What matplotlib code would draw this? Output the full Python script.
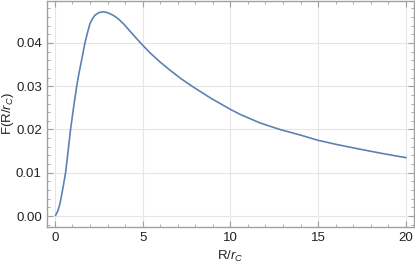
import numpy as np
import matplotlib
matplotlib.use("Agg")
import matplotlib.pyplot as plt
from matplotlib.ticker import MultipleLocator, FormatStrFormatter

# values
r_ratio = [0.04, 0.17, 0.29, 0.47, 0.61, 0.75, 0.89, 1.06, 1.24, 1.38, 1.52, 1.71,
           1.85, 2.0, 2.14, 2.28, 2.5, 2.75, 3.0, 3.32, 3.6, 3.89, 4.28, 4.88, 5.4,
           5.99, 6.56, 7.2, 7.89, 8.9, 9.98, 10.55, 11.7, 12.83, 14.0, 15.0, 16.1,
           17.2, 18.6, 20.0]
F_vals = [0.0002, 0.0012, 0.0029, 0.0068, 0.0101, 0.0150, 0.0200, 0.0250, 0.0300,
          0.0332, 0.0360, 0.0400, 0.0423, 0.0445, 0.0456, 0.0464, 0.0470, 0.0472,
          0.0470, 0.0464, 0.0456, 0.0445, 0.0427, 0.0400, 0.0378, 0.0356, 0.0337,
          0.0317, 0.0298, 0.0272, 0.0247, 0.0235, 0.0215, 0.0200, 0.0187, 0.0175,
          0.0165, 0.0156, 0.0145, 0.0135]

plt.rcParams['font.family'] = ['Liberation Sans', 'DejaVu Sans']
plt.rcParams['mathtext.fontset'] = 'custom'
plt.rcParams['mathtext.it'] = 'Liberation Sans:italic'
plt.rcParams['mathtext.rm'] = 'Liberation Sans'

fig = plt.figure(figsize=(4.15, 2.64), dpi=100)
ax = fig.add_axes([0.1125, 0.139, 0.884, 0.859])

ax.plot(r_ratio, F_vals, color='#5E81B5', lw=1.2)

ax.set_xlim(-0.47, 20.44)
ax.set_ylim(-0.0026, 0.0498)
ax.xaxis.set_major_locator(MultipleLocator(5))
ax.xaxis.set_minor_locator(MultipleLocator(1))
ax.yaxis.set_major_locator(MultipleLocator(0.01))
ax.yaxis.set_minor_locator(MultipleLocator(0.002))
ax.yaxis.set_major_formatter(FormatStrFormatter('%.2f'))

ax.grid(True, which='major', color='#e6e6e6', lw=0.8)
ax.set_axisbelow(True)

frame_col = '#a0a0a0'
for s in ax.spines.values():
    s.set_color(frame_col)
    s.set_linewidth(1.0)
ax.tick_params(which='both', direction='in', top=True, right=True, color=frame_col,
               labelsize=9.5, labelcolor='#222222')
ax.tick_params(which='major', length=4, width=0.8)
ax.tick_params(which='minor', length=2.3, width=0.6)

ax.set_xlabel(r'R/$r_C$', fontsize=9.5, color='#222222', labelpad=3.5)
ax.set_ylabel(r'F(R/$r_C$)', fontsize=9.5, color='#222222')
ax.yaxis.set_label_coords(-0.084, 0.5)

fig.savefig('out.png', dpi=100)
